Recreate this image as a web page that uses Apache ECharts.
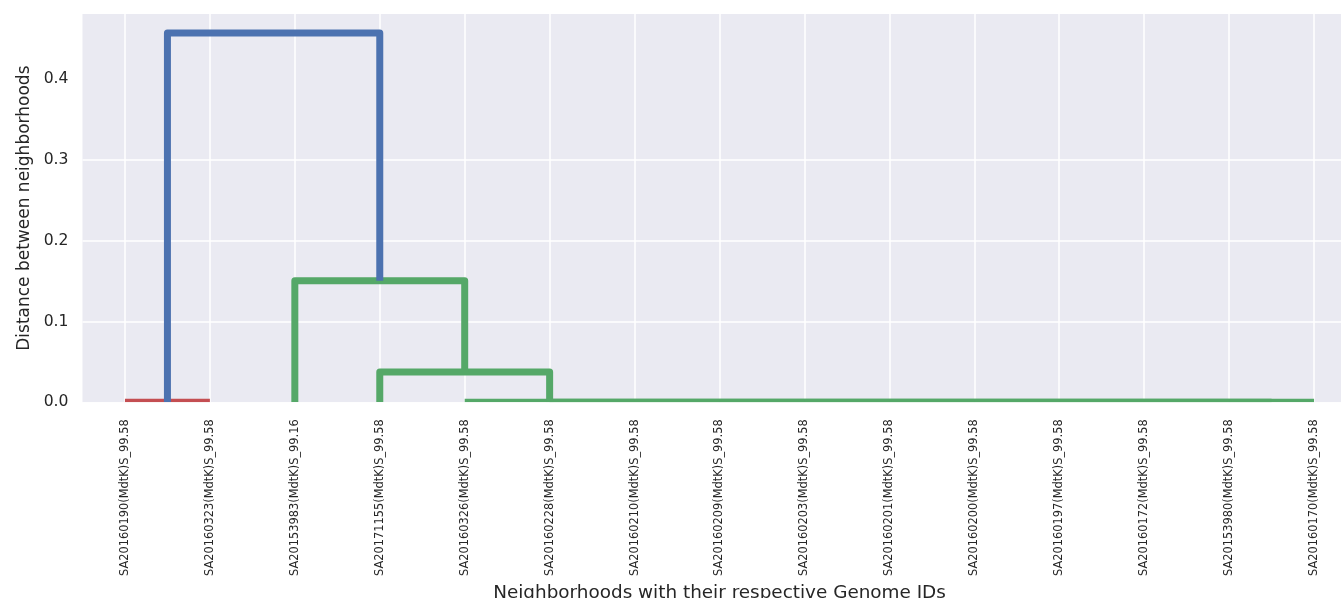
<!DOCTYPE html>
<html>
<head>
<meta charset="utf-8">
<title>Dendrogram of neighborhoods</title>
<script src="https://cdn.jsdelivr.net/npm/echarts@6/dist/echarts.min.js"></script>
<style>
  html, body { margin: 0; padding: 0; background: #ffffff; }
  #chart { width: 1341px; height: 598px; }
</style>
</head>
<body>
<div id="chart"></div>
<script>
// Leaves, left to right (leaf i sits at x = 5 + 10 * i)
const leafLabels = [
  'SA20160190(MdtK)S_99.58',
  'SA20160323(MdtK)S_99.58',
  'SA20153983(MdtK)S_99.16',
  'SA20171155(MdtK)S_99.58',
  'SA20160326(MdtK)S_99.58',
  'SA20160228(MdtK)S_99.58',
  'SA20160210(MdtK)S_99.58',
  'SA20160209(MdtK)S_99.58',
  'SA20160203(MdtK)S_99.58',
  'SA20160201(MdtK)S_99.58',
  'SA20160200(MdtK)S_99.58',
  'SA20160197(MdtK)S_99.58',
  'SA20160172(MdtK)S_99.58',
  'SA20153980(MdtK)S_99.58',
  'SA20160170(MdtK)S_99.58'
];
const leafPositions = leafLabels.map((_, i) => 5 + 10 * i);

// Dendrogram links: four x coordinates (icoord) and four heights (dcoord) each
const linkX = [
  [5, 5, 15, 15],
  [135, 135, 145, 145],
  [125, 125, 140, 140],
  [115, 115, 135, 135],
  [105, 105, 125, 125],
  [95, 95, 115, 115],
  [85, 85, 105, 105],
  [75, 75, 95, 95],
  [65, 65, 85, 85],
  [55, 55, 75, 75],
  [45, 45, 65, 65],
  [35, 35, 55, 55],
  [25, 25, 45, 45],
  [10, 10, 35, 35]
];
const linkHeight = [
  [0, 0, 0, 0],
  [0, 0, 0, 0],
  [0, 0, 0, 0],
  [0, 0, 0, 0],
  [0, 0, 0, 0],
  [0, 0, 0, 0],
  [0, 0, 0, 0],
  [0, 0, 0, 0],
  [0, 0, 0, 0],
  [0, 0, 0, 0],
  [0, 0, 0, 0],
  [0, 0.0375, 0.0375, 0],
  [0, 0.1507, 0.1507, 0.0375],
  [0, 0.4576, 0.4576, 0.1507]
];
const linkCluster = [
  'C1', 'C2', 'C2', 'C2', 'C2', 'C2', 'C2', 'C2', 'C2', 'C2', 'C2', 'C2', 'C2', 'above'
];

const yTicks = [0, 0.1, 0.2, 0.3, 0.4];

const clusterColors = { C1: '#c44e52', C2: '#55a868', above: '#4c72b0' };
const FONT = 'DejaVu Sans';
const INK = '#262626';

const chart = echarts.init(document.getElementById('chart'), null, { renderer: 'canvas' });

const linkData = linkX.map((xs, i) => xs.concat(linkHeight[i]));

chart.setOption({
  animation: false,
  backgroundColor: '#ffffff',
  grid: {
    show: true,
    outerBoundsMode: 'none',
    containLabel: false,
    left: 82.5,
    top: 14,
    width: 1274,
    height: 388.3,
    backgroundColor: '#eaeaf2',
    borderWidth: 0
  },
  xAxis: {
    type: 'value',
    min: 0,
    max: 150,
    name: 'Neighborhoods with their respective Genome IDs',
    nameLocation: 'middle',
    nameGap: 177,
    nameTextStyle: { fontFamily: FONT, fontSize: 18.4, color: INK },
    axisLine: { show: false },
    axisTick: { show: false, customValues: leafPositions },
    axisLabel: {
      customValues: leafPositions,
      rotate: 90,
      margin: 17,
      fontFamily: FONT,
      fontSize: 11.4,
      color: INK,
      formatter: v => leafLabels[Math.round((v - 5) / 10)]
    },
    splitLine: { show: true, lineStyle: { color: '#ffffff', width: 1.5 } }
  },
  yAxis: {
    type: 'value',
    min: 0,
    max: 0.481,
    interval: 0.1,
    name: 'Distance between neighborhoods',
    nameLocation: 'middle',
    nameGap: 48,
    nameTextStyle: { fontFamily: FONT, fontSize: 17, color: INK },
    axisLine: { show: false },
    axisTick: { show: false, customValues: yTicks },
    axisLabel: {
      customValues: yTicks,
      margin: 14,
      fontFamily: FONT,
      fontSize: 15.6,
      color: INK,
      formatter: v => v.toFixed(1)
    },
    splitLine: { show: true, showMaxLine: false, lineStyle: { color: '#ffffff', width: 1.5 } }
  },
  series: [{
    type: 'custom',
    clip: true,
    data: linkData,
    encode: { x: [0, 1, 2, 3], y: [4, 5, 6, 7] },
    renderItem: (params, api) => {
      const pts = [0, 1, 2, 3].map(k => api.coord([api.value(k), api.value(4 + k)]));
      const area = params.coordSys;
      return {
        type: 'polyline',
        shape: { points: pts },
        // links lying on the baseline are cut by the plot edge
        clipPath: {
          type: 'rect',
          shape: { x: area.x, y: area.y, width: area.width, height: area.height }
        },
        style: {
          stroke: clusterColors[linkCluster[params.dataIndex]],
          lineWidth: 7,
          fill: null,
          lineJoin: 'round',
          lineCap: 'butt'
        }
      };
    }
  }]
});
</script>
</body>
</html>
